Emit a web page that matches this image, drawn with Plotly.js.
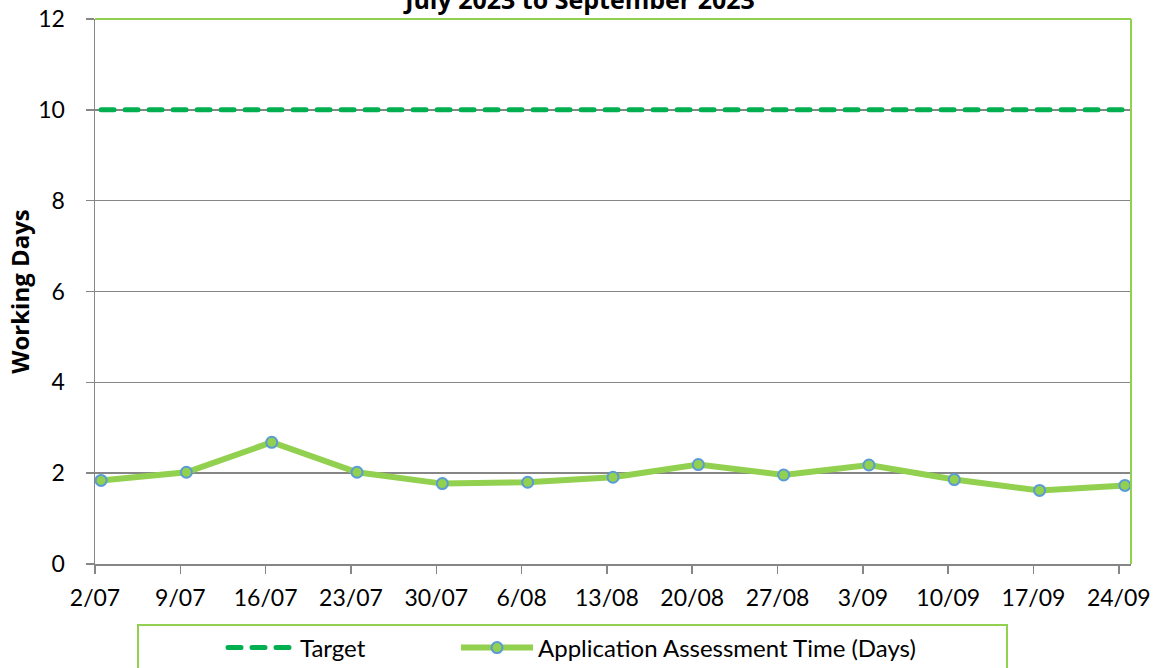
<!DOCTYPE html>
<html>
<head>
<meta charset="utf-8">
<script src="https://cdn.plot.ly/plotly-3.0.1.min.js"></script>
<style>
html,body{margin:0;padding:0;background:#fff;}
#chart{width:1160px;height:668px;}
.scatterlayer .trace:first-child path.js-line,
.legend .traces path.js-line{stroke-linecap:round;}
</style>
</head>
<body>
<div id="chart"></div>
<script>
// ---- data ----
const weekStarts = ['2023-07-02','2023-07-09','2023-07-16','2023-07-23','2023-07-30','2023-08-06','2023-08-13','2023-08-20','2023-08-27','2023-09-03','2023-09-10','2023-09-17','2023-09-24'];
const assessmentDays = [1.84, 2.02, 2.68, 2.02, 1.77, 1.80, 1.91, 2.19, 1.96, 2.18, 1.86, 1.62, 1.73];
const targetDays = [10, 10, 10, 10, 10, 10, 10, 10, 10, 10, 10, 10, 10];
const chartTitle = 'July 2023 to September 2023';
const yTitle = 'Working Days';
const seriesNames = ['Target', 'Application Assessment Time (Days)'];

// Excel date axis plots each value in the middle of its day
const xPlot = weekStarts.map(d => d + ' 12:00');

const FONT = 'Lato, "Open Sans", sans-serif';
const BOLD_FONT = '"Open Sans", Lato, sans-serif';
const GRAY = '#868686';
const BORDER_GREEN = '#92D050';

// plot area in pixels (for decorative shapes / legend placement in paper coords)
const W = 1160, H = 668, L = 95, R = 29, T = 19, B = 104;
const pw = W - L - R, ph = H - T - B;
const px = x => (x - L) / pw;
const py = y => (H - B - y) / ph;

const traces = [
  {
    x: xPlot, y: targetDays, name: seriesNames[0], type: 'scatter', mode: 'lines',
    line: {color: '#00B050', width: 5, dash: '13px,11px'},
    legend: 'legend',
    hoverinfo: 'skip'
  },
  {
    x: xPlot, y: assessmentDays, name: seriesNames[1], type: 'scatter', mode: 'lines+markers',
    line: {color: '#92D050', width: 6},
    marker: {symbol: 'circle', size: 11, color: '#92D050', line: {color: '#5B9BD5', width: 2}},
    legend: 'legend2',
    hoverinfo: 'skip'
  }
];

const legendCommon = {
  orientation: 'h', xanchor: 'left', yanchor: 'middle',
  bgcolor: 'rgba(0,0,0,0)', borderwidth: 0,
  font: {family: FONT, size: 24, color: '#000'},
  itemclick: false, itemdoubleclick: false
};

const layout = {
  width: W, height: H,
  margin: {l: L, r: R, t: T, b: B, pad: 0, autoexpand: false},
  paper_bgcolor: '#fff', plot_bgcolor: '#fff',
  font: {family: FONT, size: 23, color: '#000'},
  title: {
    text: '<b>' + chartTitle + '</b>',
    font: {family: BOLD_FONT, size: 25, color: '#000'},
    x: 0.5, xref: 'container', xanchor: 'center',
    y: 1.0, yref: 'container', yanchor: 'middle'
  },
  showlegend: true,
  legend: Object.assign({}, legendCommon, {x: px(223), y: py(648), itemwidth: 67}),
  legend2: Object.assign({}, legendCommon, {x: px(456), y: py(648), itemwidth: 72}),
  xaxis: {
    type: 'date',
    range: ['2023-07-02', '2023-09-25'],
    tick0: '2023-07-02', dtick: 7 * 86400000,
    tickformat: '%-d/%m',
    ticks: 'outside', ticklen: 8, tickwidth: 1.5, tickcolor: GRAY,
    showline: true, linecolor: GRAY, linewidth: 1.5,
    showgrid: false, zeroline: false,
    ticklabelstandoff: 5,
    tickfont: {family: FONT, size: 23, color: '#000'},
    fixedrange: true
  },
  yaxis: {
    range: [0, 12], dtick: 2, tick0: 0,
    ticks: 'outside', ticklen: 8, tickwidth: 1.5, tickcolor: GRAY,
    showline: true, linecolor: GRAY, linewidth: 1.5,
    showgrid: true, gridcolor: GRAY, gridwidth: 1.5,
    zeroline: false,
    ticklabelstandoff: 16,
    tickfont: {family: FONT, size: 23, color: '#000'},
    title: {text: '<b>' + yTitle + '</b>', font: {family: BOLD_FONT, size: 24, color: '#000'}, standoff: 2},
    fixedrange: true
  },
  shapes: [
    // plot-area outline (top and right edges, green)
    {type: 'line', xref: 'paper', yref: 'paper', x0: 0, x1: 1, y0: 1, y1: 1, line: {color: BORDER_GREEN, width: 2}, layer: 'above'},
    {type: 'line', xref: 'paper', yref: 'paper', x0: 1, x1: 1, y0: 0, y1: 1, line: {color: BORDER_GREEN, width: 2}, layer: 'above'},
    // legend frame
    {type: 'rect', xref: 'paper', yref: 'paper', x0: px(138), x1: px(1007), y0: py(625), y1: py(690), line: {color: BORDER_GREEN, width: 2}, fillcolor: 'rgba(0,0,0,0)', layer: 'above'}
  ]
};

Plotly.newPlot('chart', traces, layout, {staticPlot: true, displayModeBar: false});
</script>
</body>
</html>
